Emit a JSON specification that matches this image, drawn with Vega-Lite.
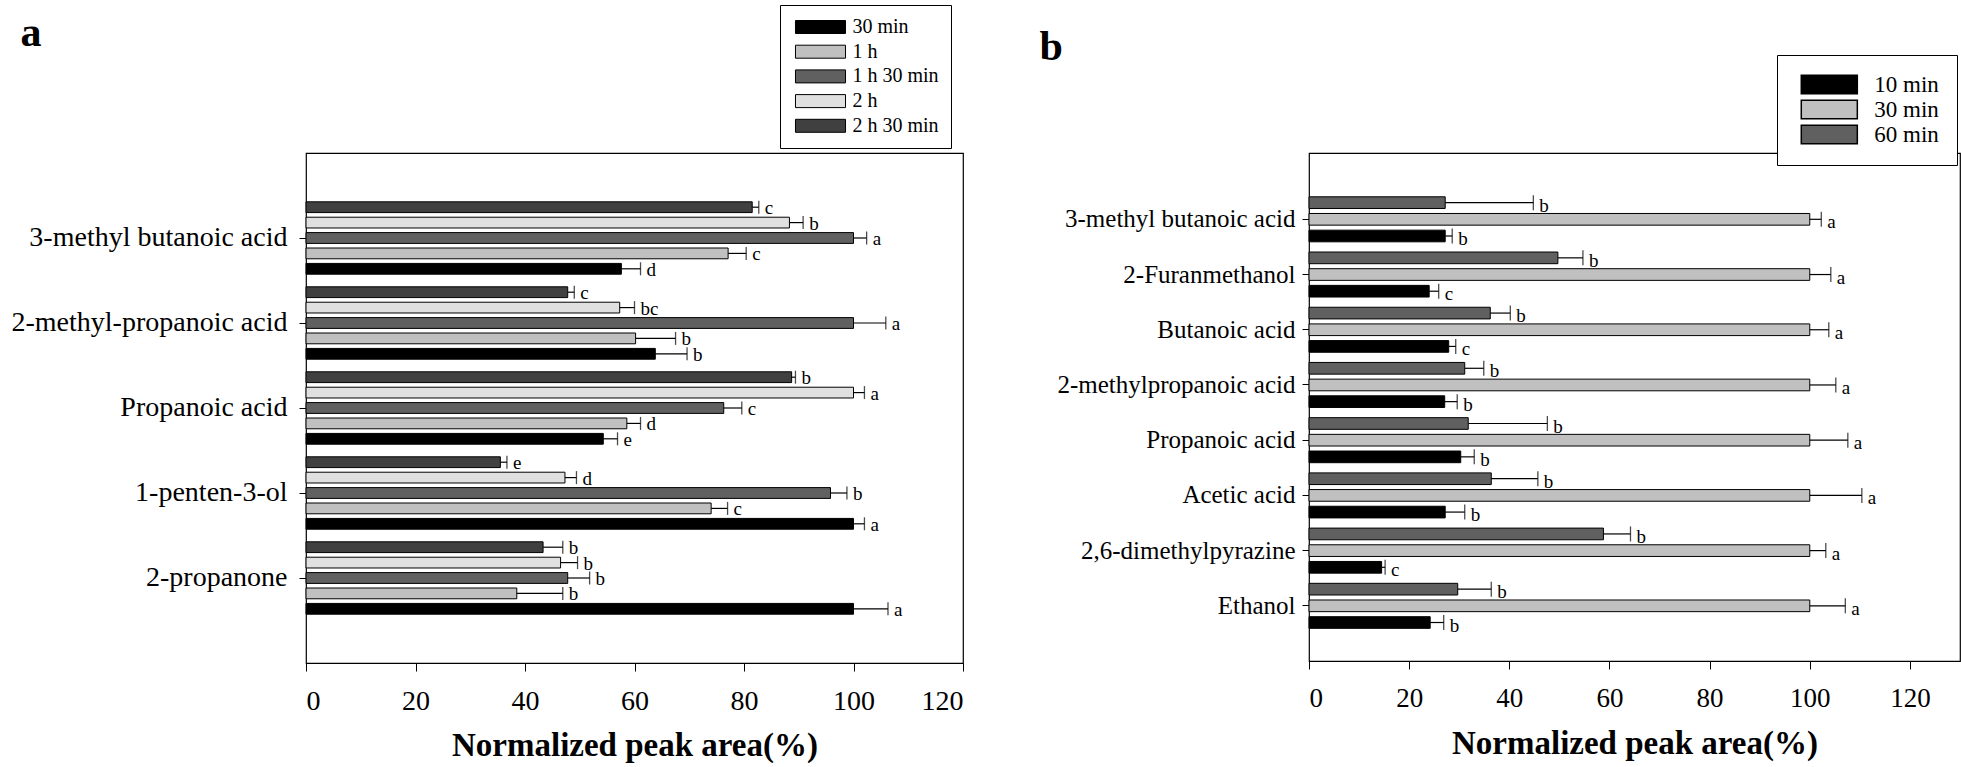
{
  "$schema": "https://vega.github.io/schema/vega-lite/v6.json",
  "background": "white",
  "padding": {"left": 10, "top": 3, "right": 0, "bottom": 0},
  "config": {
    "font": "Liberation Serif",
    "view": {"stroke": "black", "strokeWidth": 1.2},
    "axis": {"grid": false, "domain": false, "labelColor": "black", "tickColor": "black", "titleColor": "black", "labelFont": "Liberation Serif", "titleFont": "Liberation Serif", "labelLimit": 500},
    "legend": {"labelFont": "Liberation Serif", "labelColor": "black"}
  },
  "datasets": {
    "a": [
      {"compound": "3-methyl butanoic acid", "time": "2 h 30 min", "value": 81.5, "hi": 82.7, "letter": "c"},
      {"compound": "3-methyl butanoic acid", "time": "2 h", "value": 88.3, "hi": 90.8, "letter": "b"},
      {"compound": "3-methyl butanoic acid", "time": "1 h 30 min", "value": 100, "hi": 102.4, "letter": "a"},
      {"compound": "3-methyl butanoic acid", "time": "1 h", "value": 77.1, "hi": 80.4, "letter": "c"},
      {"compound": "3-methyl butanoic acid", "time": "30 min", "value": 57.6, "hi": 61.1, "letter": "d"},
      {"compound": "2-methyl-propanoic acid", "time": "2 h 30 min", "value": 47.8, "hi": 49.0, "letter": "c"},
      {"compound": "2-methyl-propanoic acid", "time": "2 h", "value": 57.3, "hi": 60.0, "letter": "bc"},
      {"compound": "2-methyl-propanoic acid", "time": "1 h 30 min", "value": 100, "hi": 105.9, "letter": "a"},
      {"compound": "2-methyl-propanoic acid", "time": "1 h", "value": 60.2, "hi": 67.5, "letter": "b"},
      {"compound": "2-methyl-propanoic acid", "time": "30 min", "value": 63.8, "hi": 69.6, "letter": "b"},
      {"compound": "Propanoic acid", "time": "2 h 30 min", "value": 88.7, "hi": 89.4, "letter": "b"},
      {"compound": "Propanoic acid", "time": "2 h", "value": 100, "hi": 102.0, "letter": "a"},
      {"compound": "Propanoic acid", "time": "1 h 30 min", "value": 76.3, "hi": 79.6, "letter": "c"},
      {"compound": "Propanoic acid", "time": "1 h", "value": 58.6, "hi": 61.1, "letter": "d"},
      {"compound": "Propanoic acid", "time": "30 min", "value": 54.3, "hi": 56.9, "letter": "e"},
      {"compound": "1-penten-3-ol", "time": "2 h 30 min", "value": 35.5, "hi": 36.7, "letter": "e"},
      {"compound": "1-penten-3-ol", "time": "2 h", "value": 47.3, "hi": 49.4, "letter": "d"},
      {"compound": "1-penten-3-ol", "time": "1 h 30 min", "value": 95.8, "hi": 98.8, "letter": "b"},
      {"compound": "1-penten-3-ol", "time": "1 h", "value": 74.0, "hi": 77.0, "letter": "c"},
      {"compound": "1-penten-3-ol", "time": "30 min", "value": 100, "hi": 102.0, "letter": "a"},
      {"compound": "2-propanone", "time": "2 h 30 min", "value": 43.3, "hi": 46.9, "letter": "b"},
      {"compound": "2-propanone", "time": "2 h", "value": 46.5, "hi": 49.6, "letter": "b"},
      {"compound": "2-propanone", "time": "1 h 30 min", "value": 47.8, "hi": 51.8, "letter": "b"},
      {"compound": "2-propanone", "time": "1 h", "value": 38.5, "hi": 46.9, "letter": "b"},
      {"compound": "2-propanone", "time": "30 min", "value": 100, "hi": 106.3, "letter": "a"}
    ],
    "b": [
      {"compound": "3-methyl butanoic acid", "time": "60 min", "value": 27.2, "hi": 44.8, "letter": "b"},
      {"compound": "3-methyl butanoic acid", "time": "30 min", "value": 100, "hi": 102.3, "letter": "a"},
      {"compound": "3-methyl butanoic acid", "time": "10 min", "value": 27.2, "hi": 28.6, "letter": "b"},
      {"compound": "2-Furanmethanol", "time": "60 min", "value": 49.7, "hi": 54.7, "letter": "b"},
      {"compound": "2-Furanmethanol", "time": "30 min", "value": 100, "hi": 104.2, "letter": "a"},
      {"compound": "2-Furanmethanol", "time": "10 min", "value": 24.0, "hi": 25.9, "letter": "c"},
      {"compound": "Butanoic acid", "time": "60 min", "value": 36.2, "hi": 40.2, "letter": "b"},
      {"compound": "Butanoic acid", "time": "30 min", "value": 100, "hi": 103.8, "letter": "a"},
      {"compound": "Butanoic acid", "time": "10 min", "value": 27.9, "hi": 29.3, "letter": "c"},
      {"compound": "2-methylpropanoic acid", "time": "60 min", "value": 31.1, "hi": 34.9, "letter": "b"},
      {"compound": "2-methylpropanoic acid", "time": "30 min", "value": 100, "hi": 105.2, "letter": "a"},
      {"compound": "2-methylpropanoic acid", "time": "10 min", "value": 27.1, "hi": 29.6, "letter": "b"},
      {"compound": "Propanoic acid", "time": "60 min", "value": 31.8, "hi": 47.6, "letter": "b"},
      {"compound": "Propanoic acid", "time": "30 min", "value": 100, "hi": 107.6, "letter": "a"},
      {"compound": "Propanoic acid", "time": "10 min", "value": 30.3, "hi": 33.0, "letter": "b"},
      {"compound": "Acetic acid", "time": "60 min", "value": 36.4, "hi": 45.7, "letter": "b"},
      {"compound": "Acetic acid", "time": "30 min", "value": 100, "hi": 110.4, "letter": "a"},
      {"compound": "Acetic acid", "time": "10 min", "value": 27.2, "hi": 31.1, "letter": "b"},
      {"compound": "2,6-dimethylpyrazine", "time": "60 min", "value": 58.8, "hi": 64.2, "letter": "b"},
      {"compound": "2,6-dimethylpyrazine", "time": "30 min", "value": 100, "hi": 103.2, "letter": "a"},
      {"compound": "2,6-dimethylpyrazine", "time": "10 min", "value": 14.5, "hi": 15.2, "letter": "c"},
      {"compound": "Ethanol", "time": "60 min", "value": 29.7, "hi": 36.4, "letter": "b"},
      {"compound": "Ethanol", "time": "30 min", "value": 100, "hi": 107.1, "letter": "a"},
      {"compound": "Ethanol", "time": "10 min", "value": 24.2, "hi": 26.9, "letter": "b"}
    ]
  },
  "resolve": {"scale": {"color": "independent", "x": "independent", "y": "independent", "yOffset": "independent"}, "legend": {"color": "independent"}},
  "spacing": 73,
  "hconcat": [
    {
      "width": 657,
      "height": 510,
      "data": {"name": "a"},
      "encoding": {
        "y": {"field": "compound", "type": "nominal", "sort": ["3-methyl butanoic acid", "2-methyl-propanoic acid", "Propanoic acid", "1-penten-3-ol", "2-propanone"],
              "scale": {"paddingInner": 0.094, "paddingOuter": 0.547},
              "axis": {"title": "a", "titleFontSize": 42, "titleFontWeight": "bold", "titleAngle": 0, "titleAlign": "left", "titleBaseline": "alphabetic", "titleX": -286, "titleY": -108,
                       "labelFontSize": 28, "tickSize": 7, "labelPadding": 12}},
        "yOffset": {"field": "time", "type": "nominal", "sort": ["2 h 30 min", "2 h", "1 h 30 min", "1 h", "30 min"], "scale": {"paddingInner": 0.3, "paddingOuter": 0.15}}
      },
      "layer": [
        {
          "mark": {"type": "bar", "stroke": "black", "strokeWidth": 1},
          "encoding": {
            "x": {"field": "value", "type": "quantitative", "scale": {"domain": [0, 120], "nice": false},
                  "axis": {"values": [0, 20, 40, 60, 80, 100, 120], "title": "Normalized peak area(%)", "titleFontSize": 33, "titleFontWeight": "bold", "titlePadding": 14, "labelFontSize": 28, "tickSize": 8, "labelPadding": 16}},
            "color": {"field": "time", "type": "nominal",
                      "scale": {"domain": ["30 min", "1 h", "1 h 30 min", "2 h", "2 h 30 min"], "range": ["#000000", "#c0c0c0", "#606060", "#e0e0e0", "#404040"]},
                      "legend": {"orient": "none", "legendX": 474, "legendY": -148, "title": null, "symbolType": "M-3.85,-1H3.85V1H-3.85Z", "symbolSize": 169, "symbolOffset": 18.5, "symbolStrokeColor": "black", "symbolStrokeWidth": 1, "symbolOpacity": 1, "labelFontSize": 20, "labelOffset": 22, "rowPadding": 4.7, "strokeColor": "black", "fillColor": "white", "padding": 12}}
          }
        },
        {
          "mark": {"type": "rule", "color": "black", "strokeWidth": 1.2},
          "encoding": {"x": {"field": "value", "type": "quantitative"}, "x2": {"field": "hi"}}
        },
        {
          "mark": {"type": "tick", "orient": "vertical", "color": "black", "size": 13, "thickness": 1.3},
          "encoding": {"x": {"field": "hi", "type": "quantitative"}}
        },
        {
          "mark": {"type": "text", "align": "left", "baseline": "middle", "dx": 6, "dy": 1, "fontSize": 19, "color": "black"},
          "encoding": {"x": {"field": "hi", "type": "quantitative"}, "text": {"field": "letter"}}
        }
      ]
    },
    {
      "width": 651,
      "height": 508,
      "data": {"name": "b"},
      "encoding": {
        "y": {"field": "compound", "type": "nominal", "sort": ["3-methyl butanoic acid", "2-Furanmethanol", "Butanoic acid", "2-methylpropanoic acid", "Propanoic acid", "Acetic acid", "2,6-dimethylpyrazine", "Ethanol"],
              "scale": {"paddingInner": 0.094, "paddingOuter": 0.647, "align": 0.578},
              "axis": {"title": "b", "titleFontSize": 42, "titleFontWeight": "bold", "titleAngle": 0, "titleAlign": "left", "titleBaseline": "alphabetic", "titleX": -270, "titleY": -94,
                       "labelFontSize": 25, "tickSize": 7, "labelPadding": 7}},
        "yOffset": {"field": "time", "type": "nominal", "sort": ["60 min", "30 min", "10 min"], "scale": {"paddingInner": 0.3, "paddingOuter": 0.15}}
      },
      "layer": [
        {
          "mark": {"type": "bar", "stroke": "black", "strokeWidth": 1},
          "encoding": {
            "x": {"field": "value", "type": "quantitative", "scale": {"domain": [0, 130], "nice": false},
                  "axis": {"values": [0, 20, 40, 60, 80, 100, 120], "title": "Normalized peak area(%)", "titleFontSize": 33, "titleFontWeight": "bold", "titlePadding": 16, "labelFontSize": 27, "tickSize": 8, "labelPadding": 16}},
            "color": {"field": "time", "type": "nominal",
                      "scale": {"domain": ["10 min", "30 min", "60 min"], "range": ["#000000", "#c0c0c0", "#606060"]},
                      "legend": {"orient": "none", "legendX": 468, "legendY": -98, "title": null, "symbolType": "M-3.03,-1H3.03V1H-3.03Z", "symbolSize": 342, "symbolOffset": 22.8, "symbolStrokeColor": "black", "symbolStrokeWidth": 1.5, "symbolOpacity": 1, "labelFontSize": 23, "labelOffset": 33.5, "rowPadding": 0, "strokeColor": "black", "fillColor": "white", "padding": 18}}
          }
        },
        {
          "mark": {"type": "rule", "color": "black", "strokeWidth": 1.2},
          "encoding": {"x": {"field": "value", "type": "quantitative"}, "x2": {"field": "hi"}}
        },
        {
          "mark": {"type": "tick", "orient": "vertical", "color": "black", "size": 15, "thickness": 1.3},
          "encoding": {"x": {"field": "hi", "type": "quantitative"}}
        },
        {
          "mark": {"type": "text", "align": "left", "baseline": "middle", "dx": 6, "dy": 3, "fontSize": 19, "color": "black"},
          "encoding": {"x": {"field": "hi", "type": "quantitative"}, "text": {"field": "letter"}}
        }
      ]
    }
  ]
}
